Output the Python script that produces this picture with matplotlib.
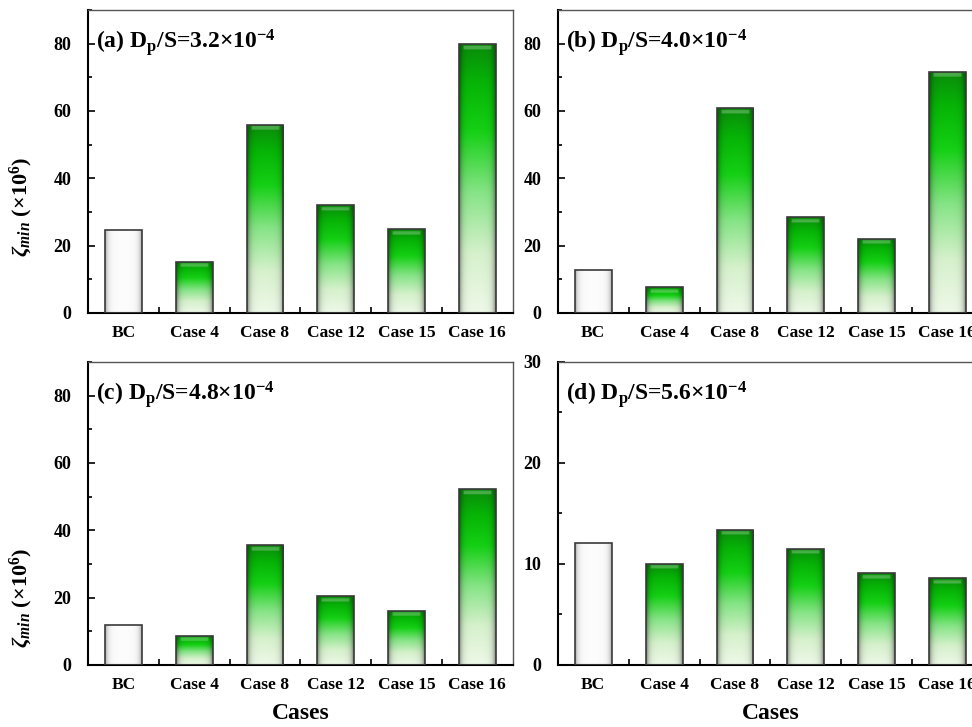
import numpy as np
import matplotlib
matplotlib.use('Agg')
import matplotlib.pyplot as plt
from matplotlib.colors import LinearSegmentedColormap
from matplotlib.ticker import FixedLocator, MultipleLocator

# Dados (zeta_min x 10^6)
cases = ['BC', 'Case 4', 'Case 8', 'Case 12', 'Case 15', 'Case 16']
zeta_a = [24.6, 15.2, 55.9, 32.0, 24.8, 79.8]
zeta_b = [12.8, 7.6, 60.8, 28.4, 22.1, 71.6]
zeta_c = [12.0, 8.7, 35.6, 20.4, 16.1, 52.2]
zeta_d = [12.1, 10.0, 13.4, 11.5, 9.1, 8.6]
ratios = ['3.2', '4.0', '4.8', '5.6']
tags = ['(a)', '(b)', '(c)', '(d)']
ymax = [90, 90, 90, 30]
ystep = [20, 20, 20, 10]

plt.rcParams['font.family'] = ['Liberation Serif', 'DejaVu Serif']
plt.rcParams['font.weight'] = 'bold'
plt.rcParams['mathtext.fontset'] = 'custom'
plt.rcParams['mathtext.rm'] = 'Liberation Serif:bold'
plt.rcParams['mathtext.bf'] = 'Liberation Serif:bold'
plt.rcParams['mathtext.it'] = 'Liberation Serif:italic:bold'

verde = LinearSegmentedColormap.from_list('verde', [
    (0.0, '#eef9e8'), (0.22, '#d6f1cc'), (0.45, '#86e486'),
    (0.68, '#14d014'), (0.86, '#06b406'), (1.0, '#0a8c0a')])


def imagem_barra(bc, altura, ytop):
    nlin = 300
    t = np.linspace(1, 0, nlin)[:, None]
    x = np.linspace(0, 1, 80)[None, :]
    borda = np.minimum(x, 1 - x)
    if bc:
        rgb = np.ones((nlin, 1, 3)) * 0.99
        sombra = 1 - 0.35 * np.exp(-borda / 0.07)
    else:
        rgb = verde(t)[..., :3]
        sombra = 1 - 0.5 * np.exp(-borda / 0.07)
    img = rgb * sombra[..., None]
    # faixa de brilho no topo
    if not bc:
        faixa = 0.011 * ytop / altura
        ini = int(nlin * 0.7 * faixa)
        fim = max(ini + 1, int(nlin * 1.7 * faixa))
        dentro = (x > 0.12) & (x < 0.88)
        mask = np.zeros((nlin, 80), bool)
        mask[ini:fim] = dentro[0]
        img[mask] = img[mask] * 0.75 + 0.25
    return np.clip(img, 0, 1)


fig = plt.figure(figsize=(9.72, 7.27), dpi=100)
posicoes = [
    [0.0905, 0.5695, 0.437, 0.4168],
    [0.574, 0.5695, 0.437, 0.4168],
    [0.0905, 0.0853, 0.437, 0.4168],
    [0.574, 0.0853, 0.437, 0.4168],
]
dados = [zeta_a, zeta_b, zeta_c, zeta_d]
ylab_y = [0.35, None, 0.22, None]
xs = np.arange(len(cases))

for i, valores in enumerate(dados):
    ax = fig.add_axes(posicoes[i])
    barras = ax.bar(xs, valores, width=0.52, facecolor='none',
                    edgecolor='#3a3a3a', linewidth=1.2, zorder=3)
    for j, b in enumerate(barras):
        x0 = b.get_x()
        w = b.get_width()
        h = b.get_height()
        img = imagem_barra(j == 0, h, ymax[i])
        im = ax.imshow(img, extent=(x0, x0 + w, 0, h), aspect='auto',
                       interpolation='bilinear', zorder=2)
        im.set_clip_path(b)

    ax.set_xlim(-0.5, len(cases) - 0.5)
    ax.set_ylim(0, ymax[i])
    ax.set_xticks(xs)
    ax.set_xticklabels(cases)
    ax.xaxis.set_minor_locator(FixedLocator(xs[:-1] + 0.5))
    ax.yaxis.set_major_locator(MultipleLocator(ystep[i]))
    ax.yaxis.set_minor_locator(MultipleLocator(ystep[i] / 2))
    ax.tick_params(axis='x', which='both', direction='in', length=4, width=1.2,
                   labelsize=12.5, pad=9, top=False)
    ax.tick_params(axis='y', which='major', direction='in', length=5, width=1.2,
                   labelsize=13, pad=12, right=False)
    ax.tick_params(axis='y', which='minor', direction='in', length=3, width=1.2,
                   right=False)
    for s in ['left', 'bottom']:
        ax.spines[s].set_linewidth(1.5)
    for s in ['top', 'right']:
        ax.spines[s].set_linewidth(1.0)
        ax.spines[s].set_color('#555555')

    ax.text(0.02, 0.945, f'{tags[i]} D$_{{\\mathrm{{p}}}}$/S={ratios[i]}×10$^{{\\mathrm{{-4}}}}$',
            transform=ax.transAxes, fontsize=17, fontweight='bold', va='top', ha='left')

    if ylab_y[i] is not None:
        ax.set_ylabel(r'$\zeta_{min}$ (×10$^{6}$)', fontsize=16, fontweight='bold')
        ax.yaxis.set_label_coords(-0.125, ylab_y[i])
    if i >= 2:
        ax.set_xlabel('Cases', fontsize=17, fontweight='bold', labelpad=7)

fig.savefig('out.png', dpi=100)
